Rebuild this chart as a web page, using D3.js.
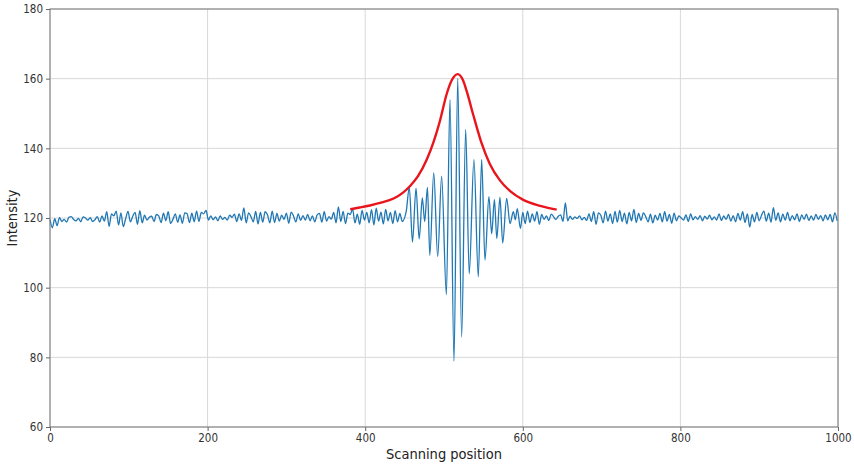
<!DOCTYPE html>
<html>
<head>
<meta charset="utf-8">
<script src="https://cdn.jsdelivr.net/npm/d3@7"></script>
<style>
  body { margin: 0; background: #fff; }
  #chart { width: 854px; height: 467px; }
  text { font-family: "DejaVu Sans Condensed", "DejaVu Sans", sans-serif; }
</style>
</head>
<body>
<div id="chart"></div>
<script>

// ----- data -----

// flat noisy part left of the fringes, sampled every 3 positions from 0
const noiseStep = 3;
const leftStart = 0;
const leftNoise = [
  119.5, 117.2, 119.8, 117.8, 120.1, 119.0, 119.6, 118.8, 120.2, 120.4,
  119.6, 119.2, 119.9, 118.9, 120.3, 120.0, 119.4, 120.1, 119.0, 119.5,
  120.4, 118.8, 120.6, 119.1, 121.8, 117.6, 121.2, 120.6, 122.0, 118.0,
  121.5, 117.5, 119.8, 121.9, 118.9, 120.5, 121.6, 118.2, 122.1, 118.6,
  120.8, 119.4, 120.2, 120.5, 119.0, 121.0, 120.6, 118.7, 121.4, 119.2,
  121.8, 118.4, 119.6, 121.2, 118.8, 120.9, 118.5, 121.5, 121.2, 118.7,
  121.4, 118.9, 122.0, 119.0, 121.6, 121.2, 122.2, 119.4, 120.6, 119.5,
  120.3, 119.2, 120.6, 119.6, 120.2, 119.4, 120.8, 120.2, 121.1, 119.0,
  121.2, 119.3, 122.9, 118.6, 121.5, 120.4, 118.9, 121.9, 118.3, 121.6,
  118.8, 121.8, 120.9, 118.6, 122.0, 118.7, 121.3, 119.1, 120.8, 119.6,
  121.4, 118.5, 121.7, 120.6, 118.9, 121.2, 119.3, 120.7, 119.4, 121.0,
  119.2, 120.6, 118.9, 120.9, 121.3, 118.8, 121.8, 119.1, 120.4, 119.7,
  121.6, 118.6, 123.2, 119.0, 121.9, 118.4, 121.4, 121.0, 122.6, 118.6,
  121.1, 118.2, 122.2, 119.4, 121.6, 118.6, 122.4, 118.0, 122.8, 119.1,
  121.7, 118.3, 122.5, 119.2, 121.6, 118.4, 122.1, 118.9, 121.3, 119.0
];

// interference fringes: peaks and troughs
const fringeX = [452, 456, 460, 464.5, 468.5, 472.5, 475.5, 479, 482, 487,
  492, 497, 503, 507.6, 512.7, 517.4, 522.4, 527.5, 532, 538,
  543.5, 547.8, 552, 557, 560.5, 564, 567, 571, 574.5, 579.5,
  583.8, 588, 590.5, 593, 597];
const fringeY = [121.8, 128.8, 113.1, 128.6, 114.0, 125.8, 119.0, 128.8, 109.3, 133.0,
  108.9, 132.0, 98.0, 154.0, 78.9, 160.1, 85.8, 145.4, 104.0, 136.8,
  103.1, 136.8, 107.9, 126.1, 115.5, 125.3, 114.1, 125.9, 112.8, 125.6,
  118.4, 121.8, 119.5, 122.7, 117.0];

// flat noisy part right of the fringes, every 3 positions from 600
const rightStart = 600;
const rightNoise = [
  121.6, 118.4, 122.0, 118.7, 121.2, 119.1, 121.8, 118.2, 121.0, 119.6,
  120.6, 119.3, 121.1, 120.4, 119.6, 120.5, 120.9, 119.0, 124.3, 119.2,
  120.5, 119.6, 120.3, 119.9, 120.6, 119.5, 120.2, 119.3, 121.2, 119.0,
  121.8, 118.2, 121.5, 120.8, 118.6, 122.0, 119.1, 121.2, 118.4, 121.9,
  118.8, 122.2, 119.0, 121.4, 118.3, 121.6, 119.2, 122.5, 118.7, 121.3,
  119.3, 121.5, 120.4, 118.9, 121.1, 118.6, 120.8, 119.4, 121.3, 118.9,
  121.8, 119.1, 121.0, 118.5, 121.4, 119.2, 120.6, 120.0, 119.4, 120.9,
  119.0, 121.2, 119.5, 120.4, 119.6, 120.7, 119.2, 120.5, 119.7, 120.8,
  119.5, 120.3, 119.4, 121.2, 119.3, 120.6, 119.6, 121.0, 119.1, 120.7,
  118.9, 121.3, 119.4, 121.8, 118.7, 121.2, 117.4, 121.0, 118.9, 121.6,
  119.2, 120.8, 122.0, 119.1, 121.4, 118.8, 123.0, 119.3, 121.5, 118.9,
  121.1, 119.4, 121.6, 119.2, 120.7, 119.5, 121.2, 119.0, 120.9, 119.6,
  121.1, 119.3, 120.6, 119.4, 121.0, 119.6, 120.7, 119.2, 120.9, 119.5,
  121.0, 118.9, 121.5, 119.2
];

// red envelope over the fringes
const envelopeX = [381, 393, 406, 420, 436, 448, 457, 467, 478, 487, 495, 503.4, 510, 517.4,
  524, 528.8, 537, 547.8, 558, 571, 584, 600.6, 622, 643];
const envelopeY = [122.5, 123.0, 123.6, 124.4, 125.6, 127.3, 129.2, 132.0, 136.7, 142.0, 148.0, 155.6, 159.6, 161.3,
  159.6, 156.4, 149.7, 141.4, 135.6, 130.8, 127.7, 125.2, 123.5, 122.4];

const xTicks = [0, 200, 400, 600, 800, 1000];
const yTicks = [60, 80, 100, 120, 140, 160, 180];

// ----- layout -----
const width = 854;
const height = 467;
const margin = {top: 9, left: 50, right: 16, bottom: 40};
const plotWidth = width - margin.left - margin.right;
const plotHeight = height - margin.top - margin.bottom;

const svg = d3.select("#chart")
  .append("svg")
  .attr("width", width)
  .attr("height", height);

const g = svg.append("g")
  .attr("transform", `translate(${margin.left},${margin.top})`);

const x = d3.scaleLinear().domain([0, 1000]).range([0, plotWidth]);
const y = d3.scaleLinear().domain([60, 180]).range([plotHeight, 0]);

// grid
g.append("g")
  .selectAll("line")
  .data(xTicks)
  .join("line")
  .attr("x1", d => x(d)).attr("x2", d => x(d))
  .attr("y1", 0).attr("y2", plotHeight)
  .attr("stroke", "#d8d8d8").attr("stroke-width", 1);

g.append("g")
  .selectAll("line")
  .data(yTicks)
  .join("line")
  .attr("x1", 0).attr("x2", plotWidth)
  .attr("y1", d => y(d)).attr("y2", d => y(d))
  .attr("stroke", "#d8d8d8").attr("stroke-width", 1);

// signal
const signal = [];
leftNoise.forEach((v, i) => signal.push([leftStart + i * noiseStep, v]));
fringeX.forEach((v, i) => signal.push([v, fringeY[i]]));
rightNoise.forEach((v, i) => signal.push([rightStart + i * noiseStep, v]));

const signalLine = d3.line()
  .x(d => x(d[0]))
  .y(d => y(d[1]))
  .curve(d3.curveMonotoneX);

g.append("path")
  .datum(signal)
  .attr("fill", "none")
  .attr("stroke", "#1f77b4")
  .attr("stroke-width", 1.3)
  .attr("d", signalLine);

// envelope
const envelope = envelopeX.map((v, i) => [v, envelopeY[i]]);
const envelopeLine = d3.line()
  .x(d => x(d[0]))
  .y(d => y(d[1]))
  .curve(d3.curveMonotoneX);

g.append("path")
  .datum(envelope)
  .attr("fill", "none")
  .attr("stroke", "#e8161c")
  .attr("stroke-width", 2.4)
  .attr("d", envelopeLine);

// axes
const xAxis = g.append("g")
  .attr("transform", `translate(0,${plotHeight})`)
  .call(d3.axisBottom(x).tickValues(xTicks).tickFormat(d3.format("d")).tickSize(4).tickPadding(3));
const yAxis = g.append("g")
  .call(d3.axisLeft(y).tickValues(yTicks).tickFormat(d3.format("d")).tickSize(4).tickPadding(3));

[xAxis, yAxis].forEach(a => {
  a.select(".domain").remove();
  a.selectAll(".tick line").attr("stroke", "#666");
  a.selectAll(".tick text")
    .attr("fill", "#333")
    .style("font-size", "11.5px");
});

// frame
g.append("rect")
  .attr("width", plotWidth)
  .attr("height", plotHeight)
  .attr("fill", "none")
  .attr("stroke", "#777")
  .attr("stroke-width", 1);

// labels
svg.append("text")
  .attr("x", margin.left + plotWidth / 2)
  .attr("y", 459)
  .attr("text-anchor", "middle")
  .attr("fill", "#222")
  .style("font-size", "14.5px")
  .text("Scanning position");

svg.append("text")
  .attr("transform", `translate(17,${margin.top + plotHeight / 2}) rotate(-90)`)
  .attr("text-anchor", "middle")
  .attr("fill", "#222")
  .style("font-size", "14.5px")
  .text("Intensity");

</script>
</body>
</html>
